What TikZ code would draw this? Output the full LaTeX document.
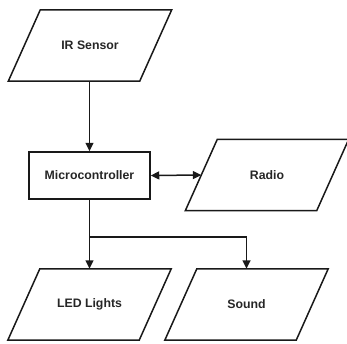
\documentclass[tikz,border=0pt]{standalone}
\usepackage{fontspec}
\setmainfont{Liberation Sans}
\usetikzlibrary{arrows.meta,calc}
\begin{document}
\begin{tikzpicture}[x=1pt,y=-1pt,
  lbl/.style={font=\fontsize{12.3}{14}\selectfont\bfseries, text=black!85},
  io/.style={lbl, rectangle, minimum width=131pt, minimum height=71pt, inner sep=0pt},
  proc/.style={lbl, draw=black!90, line width=1.5pt, rectangle, minimum width=121pt, minimum height=47pt, inner sep=0pt},
  shapeline/.style={draw=black!90, line width=1.5pt, line join=miter},
  conn/.style={draw=black!90, line width=1.5pt, -{Triangle[length=8.5pt,width=8pt]}},
  conn2/.style={draw=black!90, line width=1.5pt, {Triangle[length=8.5pt,width=8pt]}-{Triangle[length=8.5pt,width=8pt]}}]
\useasboundingbox (0,0) rectangle (347,343);
\node[io] (ir) at (90,45.5) {IR Sensor};
\node[proc] (mc) at (89.5,175.5) {Microcontroller};
\node[io] (radio) at (267,175) {Radio};
\node[io] (led) at (89.5,304.5) {LED Lights};
\node[io] (sound) at (246.5,304.5) {Sound};
\foreach \n in {ir,radio,led,sound}{
  \draw[shapeline] ($(\n.south west)+(-16,0)$) -- ($(\n.south east)+(-16,0)$)
    -- ($(\n.north east)+(16,0)$) -- ($(\n.north west)+(16,0)$) -- cycle;
}
\coordinate (br) at (89.5,237);
\draw[conn] (ir.south -| mc.north) -- (mc.north);
\draw[conn2] (mc.east) -- (radio.west);
\draw[conn] (mc.south) -- (led.north);
\draw[conn] (br) -| (sound.north);
\end{tikzpicture}
\end{document}
